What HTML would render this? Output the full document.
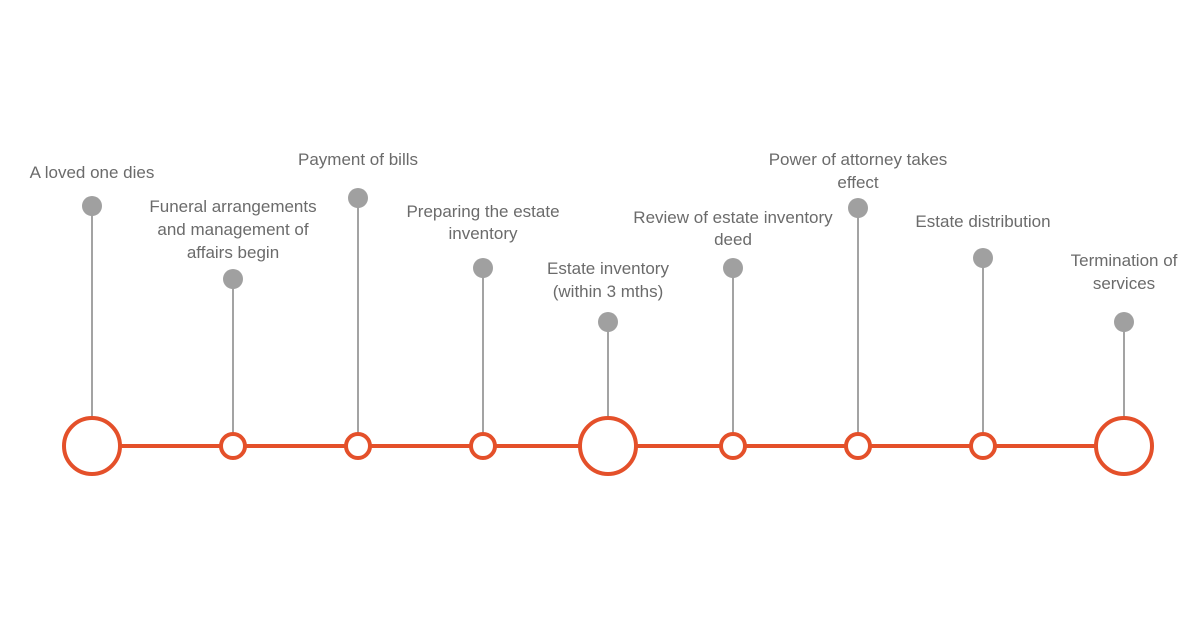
<!DOCTYPE html>
<html><head><meta charset="utf-8"><style>
html,body{margin:0;padding:0;background:#fff;}
svg{display:block;}
text{font-family:"Liberation Sans Narrow","Liberation Sans",sans-serif;font-size:17px;fill:#6b6b6b;text-anchor:middle;}
</style></head><body>
<svg width="1200" height="628" viewBox="0 0 1200 628" xmlns="http://www.w3.org/2000/svg">
<line x1="92" y1="446" x2="1124" y2="446" stroke="#e4502a" stroke-width="4"/>
<g stroke="#a3a3a3" stroke-width="2">
<line x1="92" y1="206" x2="92" y2="418"/>
<line x1="233" y1="279" x2="233" y2="434"/>
<line x1="358" y1="198" x2="358" y2="434"/>
<line x1="483" y1="268" x2="483" y2="434"/>
<line x1="608" y1="322" x2="608" y2="418"/>
<line x1="733" y1="268" x2="733" y2="434"/>
<line x1="858" y1="208" x2="858" y2="434"/>
<line x1="983" y1="258" x2="983" y2="434"/>
<line x1="1124" y1="322" x2="1124" y2="418"/>
</g>
<g fill="#a0a0a0">
<circle cx="92" cy="206" r="10"/><circle cx="233" cy="279" r="10"/><circle cx="358" cy="198" r="10"/>
<circle cx="483" cy="268" r="10"/><circle cx="608" cy="322" r="10"/><circle cx="733" cy="268" r="10"/>
<circle cx="858" cy="208" r="10"/><circle cx="983" cy="258" r="10"/><circle cx="1124" cy="322" r="10"/>
</g>
<g fill="#fff" stroke="#e4502a" stroke-width="4">
<circle cx="92" cy="446" r="28"/><circle cx="608" cy="446" r="28"/><circle cx="1124" cy="446" r="28"/>
<circle cx="233" cy="446" r="12"/><circle cx="358" cy="446" r="12"/><circle cx="483" cy="446" r="12"/>
<circle cx="733" cy="446" r="12"/><circle cx="858" cy="446" r="12"/><circle cx="983" cy="446" r="12"/>
</g>
<text x="92" y="178">A loved one dies</text>
<text x="233" y="212">Funeral arrangements</text>
<text x="233" y="235">and management of</text>
<text x="233" y="258">affairs begin</text>
<text x="358" y="165">Payment of bills</text>
<text x="483" y="217">Preparing the estate</text>
<text x="483" y="239">inventory</text>
<text x="608" y="274">Estate inventory</text>
<text x="608" y="297">(within 3 mths)</text>
<text x="733" y="223">Review of estate inventory</text>
<text x="733" y="245">deed</text>
<text x="858" y="165">Power of attorney takes</text>
<text x="858" y="188">effect</text>
<text x="983" y="227">Estate distribution</text>
<text x="1124" y="266">Termination of</text>
<text x="1124" y="289">services</text>
</svg>
</body></html>
